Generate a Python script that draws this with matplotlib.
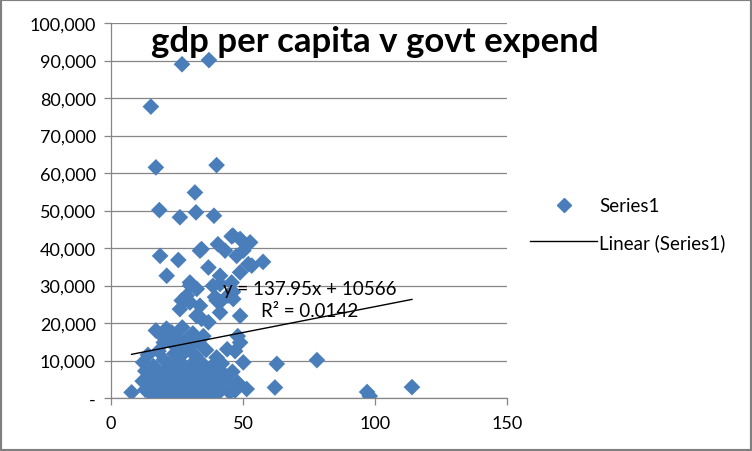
import matplotlib
matplotlib.use("Agg")
import matplotlib.pyplot as plt
from matplotlib.lines import Line2D
from matplotlib.patches import Rectangle
from matplotlib.ticker import FuncFormatter

plt.rcParams['font.family'] = ['Lato', 'DejaVu Sans']

# govt expenditure (% of GDP) vs gdp per capita
govt_expend = [
    7.8, 15.1, 26.9, 37.1, 17.0, 40.0, 31.8, 18.3, 26.1, 32.2, 39.0,
    18.6, 25.5, 21.1, 34.3, 57.6, 40.5, 45.7, 48.9, 52.7, 43.2, 47.6,
    52.0, 48.9, 36.9, 41.3, 29.9, 32.5, 28.7, 33.7, 46.2, 53.3, 50.1,
    26.8, 38.6, 39.4, 44.3, 46.2, 41.3, 30.0, 41.3, 45.7,
    28.0, 33.7, 46.3, 40.0, 26.1, 48.9, 32.4, 36.9, 41.3, 29.9, 34.3,
    17.0, 19.0, 21.0, 23.0, 25.0, 27.0, 29.0, 31.0, 33.0, 35.0, 20.0,
    24.0, 28.0, 48.0, 47.0, 48.9, 21.1, 22.0, 26.0, 30.0,
    12.2, 14.0, 16.0, 18.0, 20.0, 22.0, 24.0, 26.0, 28.0, 30.0, 32.0,
    34.0, 36.0, 38.0, 40.0, 42.0, 44.0, 50.1,
    13.0, 15.0, 17.0, 19.0, 21.0, 23.0, 25.0, 27.0, 29.0, 31.0, 33.0,
    35.0, 37.0, 39.0, 41.0, 43.0, 46.0,
    12.0, 14.0, 16.0, 18.0, 20.0, 22.0, 24.0, 26.0, 28.0, 30.0, 32.0,
    34.0, 36.0, 38.0, 40.0, 42.0, 44.0, 48.0,
    13.0, 15.0, 17.0, 19.0, 21.0, 23.0, 25.0, 27.0, 29.0, 31.0, 33.0,
    35.0, 37.0, 39.0, 41.0, 45.0, 47.0, 51.4,
    16.0, 20.0, 24.0, 28.0, 32.0, 36.0, 40.0,
    62.8, 62.1, 78.0, 97.0, 98.0, 114.0,
]
gdp_per_capita = [
    1500, 77700, 89000, 90100, 61500, 62100, 54800, 50100, 48200, 49500, 48600,
    37900, 36800, 32600, 39700, 36300, 41000, 43100, 42400, 41500, 39300, 37900,
    35700, 33500, 34800, 32600, 30800, 29100, 27300, 39300, 43300, 35300, 39300,
    26000, 29900, 26900, 27300, 28300, 25600, 30000, 30400, 30800,
    26400, 24600, 26400, 26000, 23700, 21900, 21900, 20200, 22800, 25500, 21100,
    18000, 16800, 18500, 17500, 16200, 18800, 15800, 17200, 14900, 16500, 14800,
    14000, 13500, 16500, 12500, 14800, 16600, 15400, 14600, 13800,
    9500, 11500, 8500, 12500, 10200, 8800, 11800, 9800, 12300, 8600, 11200,
    9600, 12800, 8300, 10800, 9200, 13000, 9500,
    7200, 6500, 7800, 6200, 7500, 6800, 7900, 6300, 7100, 6600, 7700,
    6400, 7300, 6900, 7600, 6100, 7000,
    4500, 5200, 3800, 4900, 4200, 5500, 3600, 4700, 5100, 3900, 4400,
    5300, 4000, 4800, 3700, 5000, 4300, 4100,
    2200, 1600, 2800, 1300, 2500, 1900, 2900, 1400, 2300, 1700, 2600,
    1200, 2100, 1800, 2700, 1500, 2000, 2400,
    500, 700, 400, 800, 600, 300, 900,
    9100, 2800, 10100, 1600, 500, 2900,
]

# trendline as printed on the chart
slope = 137.95
intercept = 10566

x_ticks = [0, 50, 100, 150]
y_ticks = list(range(0, 100001, 10000))

blue = '#4a7ebb'
grid_grey = '#868686'

fig = plt.figure(figsize=(7.52, 4.52), dpi=100)
ax = fig.add_axes([111 / 752, 53 / 452, 396 / 752, 375 / 452])

ax.scatter(govt_expend, gdp_per_capita, marker='D', s=72, color=blue,
           edgecolors='none', zorder=3, label='Series1')

x0, x1 = min(govt_expend), max(govt_expend)
ax.plot([x0, x1], [slope * x0 + intercept, slope * x1 + intercept],
        color='black', lw=1, zorder=4, label='Linear (Series1)')

ax.set_xlim(0, 150)
ax.set_ylim(0, 100000)
ax.set_xticks(x_ticks)
ax.set_yticks(y_ticks)
ax.yaxis.set_major_formatter(FuncFormatter(lambda v, p: '-' if v == 0 else f'{int(v):,}'))
ax.yaxis.grid(True, color=grid_grey, lw=0.9)
ax.set_axisbelow(True)

for side in ['top', 'right']:
    ax.spines[side].set_visible(False)
for side in ['left', 'bottom']:
    ax.spines[side].set_color(grid_grey)
    ax.spines[side].set_linewidth(0.9)
ax.tick_params(axis='both', colors=grid_grey, labelcolor='black',
               labelsize=13, length=5, width=0.9)
ax.tick_params(axis='x', pad=7)
ax.tick_params(axis='y', pad=6)

ax.text(75.2, 29070, 'y = 137.95x + 10566', fontsize=13.5, ha='center', va='center', zorder=5)
ax.text(75.4, 23200, 'R² = 0.0142', fontsize=13.5, ha='center', va='center', zorder=5)

fig.text(0.499, 0.907, 'gdp per capita v govt expend', fontsize=25,
         fontweight='bold', ha='center', va='center')

handles = [
    Line2D([], [], marker='D', color=blue, lw=0, markersize=7, label='Series1'),
    Line2D([], [], color='black', lw=1, label='Linear (Series1)'),
]
fig.legend(handles=handles, loc='center left', bbox_to_anchor=(513 / 752, 1 - 225 / 452),
           frameon=False, fontsize=13.5, handlelength=3.6, handletextpad=0.1,
           labelspacing=1.0)

fig.add_artist(Rectangle((0, 0), 1, 1, transform=fig.transFigure, fill=False,
                         edgecolor='#808080', lw=3))

fig.savefig('out.png', dpi=100)
